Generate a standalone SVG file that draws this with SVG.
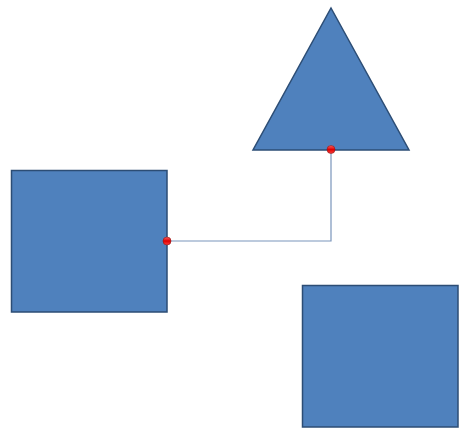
<svg xmlns="http://www.w3.org/2000/svg" width="465" height="434" viewBox="0 0 465 434">
<style>
.shape{fill:#4f81bd;stroke:#2c4d75;stroke-width:1.5}
.conn{fill:none;stroke:#7a95bb;stroke-width:1.2}
.pt{fill:url(#rg);stroke:#8b1a1a;stroke-width:0.6}
</style>
<defs>
<linearGradient id="rg" x1="0" y1="0" x2="0" y2="1">
<stop offset="0" stop-color="#ff6060"/>
<stop offset="0.5" stop-color="#e00000"/>
<stop offset="1" stop-color="#ff4040"/>
</linearGradient>
</defs>
<rect width="465" height="434" fill="#ffffff"/>
<g id="square1"><rect class="shape" x="11.5" y="170.5" width="155.5" height="141.5"/></g>
<g id="triangle"><polygon class="shape" points="331,8 409,150 253,150"/></g>
<g id="square2"><rect class="shape" x="302.5" y="285.5" width="155.5" height="141.5"/></g>
<g id="connectors">
<polyline class="conn" points="167,241 331,241 331,150"/>
<circle class="pt" cx="167" cy="241" r="4"/>
<circle class="pt" cx="331" cy="149.5" r="4"/>
</g>
</svg>
